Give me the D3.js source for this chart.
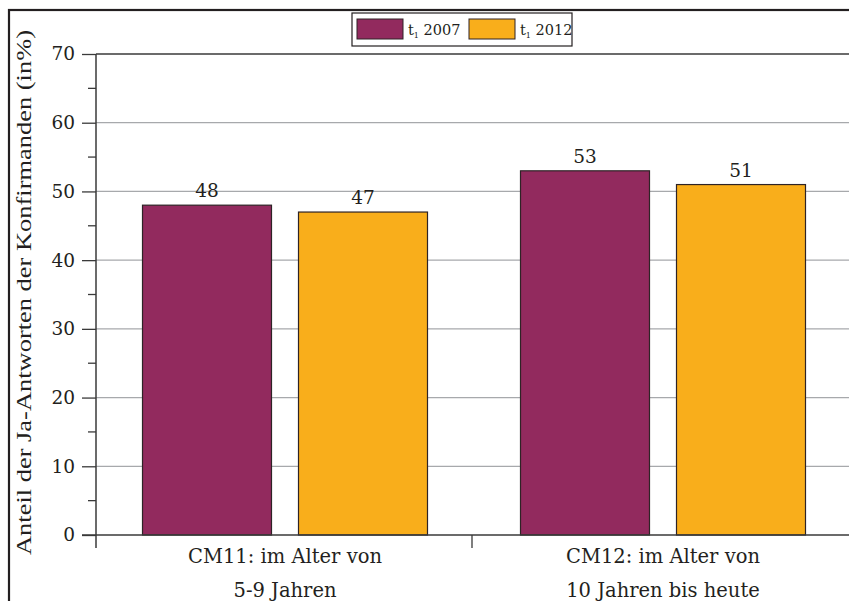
<!DOCTYPE html>
<html><head><meta charset="utf-8">
<script src="https://cdn.jsdelivr.net/npm/d3@7"></script>
<style>body{margin:0;background:#fff}svg{display:block}text{fill:#231f20}</style>
</head><body><svg id="c" width="849" height="601"></svg>
<script>
const categories = [["CM11: im Alter von","5-9 Jahren"],["CM12: im Alter von","10 Jahren bis heute"]];
const seriesNames = ["2007","2012"];
const values2007 = [48, 53];
const values2012 = [47, 51];
const yTicks = [0,10,20,30,40,50,60,70];
const colors = ["#922A5E","#F9AE1B"];

(function(){
const FONT = "'DejaVu Serif', serif";
const svg = d3.select("#c").attr("font-family", FONT);
const pLeft = 96, pRight = 852, pTop = 54, pBottom = 535;
const y = d3.scaleLinear().domain([0,70]).range([pBottom, pTop]);
const x = d3.scaleBand().domain([0,1]).range([pLeft, pRight]);
const barW = 129, gap = 27;

svg.append("rect").attr("x",9).attr("y",10).attr("width",900).attr("height",700)
  .attr("fill","none").attr("stroke","#231f20").attr("stroke-width",2.2);

svg.append("g").selectAll("line").data(yTicks.filter(d=>d>0&&d<70)).join("line")
  .attr("x1",pLeft).attr("x2",849).attr("y1",d=>y(d)).attr("y2",d=>y(d))
  .attr("stroke","#a7a9ac").attr("stroke-width",1.2);
svg.append("line").attr("x1",pLeft).attr("x2",849).attr("y1",y(70)).attr("y2",y(70))
  .attr("stroke","#3a3a3a").attr("stroke-width",1.6);

const data = [];
categories.forEach((c,i)=>{
  data.push({i, s:0, v:values2007[i]});
  data.push({i, s:1, v:values2012[i]});
});
const cx = i => x(i) + x.bandwidth()/2;
const bx = d => d.s===0 ? cx(d.i) - gap/2 - barW : cx(d.i) + gap/2;
svg.append("g").selectAll("rect").data(data).join("rect")
  .attr("x",bx).attr("width",barW)
  .attr("y",d=>y(d.v)).attr("height",d=>y(0)-y(d.v))
  .attr("fill",d=>colors[d.s]).attr("stroke","#2e2326").attr("stroke-width",1.2);
svg.append("g").selectAll("text").data(data).join("text")
  .attr("font-family",FONT)
  .attr("x",d=>bx(d)+barW/2).attr("y",d=>y(d.v)-8)
  .attr("text-anchor","middle").attr("font-size",18.5).text(d=>d.v);

const yAxis = d3.axisLeft(y).tickValues(yTicks).tickSize(14).tickPadding(7).tickSizeOuter(0);
const gy = svg.append("g").attr("transform",`translate(${pLeft},0)`).call(yAxis);
gy.attr("font-family",FONT);
gy.select(".domain").remove();
gy.selectAll("line").attr("stroke","#3a3a3a").attr("stroke-width",1.3);
gy.selectAll("text").attr("font-size",18.5).attr("font-family",FONT).attr("fill","#231f20");
const minor = d3.range(5,70,10);
svg.append("g").selectAll("line").data(minor).join("line")
  .attr("x1",pLeft-8).attr("x2",pLeft).attr("y1",d=>y(d)).attr("y2",d=>y(d))
  .attr("stroke","#3a3a3a").attr("stroke-width",1.3);
svg.append("line").attr("x1",pLeft).attr("x2",pLeft).attr("y1",pTop).attr("y2",pBottom+13)
  .attr("stroke","#3a3a3a").attr("stroke-width",1.5);

svg.append("line").attr("x1",pLeft-14).attr("x2",849).attr("y1",pBottom).attr("y2",pBottom)
  .attr("stroke","#3a3a3a").attr("stroke-width",1.6);
svg.append("line").attr("x1",x(1)-2).attr("x2",x(1)-2).attr("y1",pBottom).attr("y2",pBottom+13)
  .attr("stroke","#3a3a3a").attr("stroke-width",1.3);
categories.forEach((c,i)=>{
  c.forEach((line,j)=>{
    svg.append("text").attr("font-family",FONT).attr("x",cx(i)).attr("y",563+j*34).attr("text-anchor","middle")
      .attr("font-size",19.5).text(line);
  });
});

svg.append("text").attr("font-family","'Liberation Serif', serif")
  .attr("transform",`translate(31,${(pBottom+30)/2+10}) rotate(-90)`)
  .attr("text-anchor","middle").attr("font-size",21)
  .attr("textLength",525).attr("lengthAdjust","spacingAndGlyphs")
  .text("Anteil der Ja-Antworten der Konfirmanden (in%)");

const lg = svg.append("g");
lg.append("rect").attr("x",352).attr("y",13).attr("width",220).attr("height",33)
  .attr("fill","#fff").attr("stroke","#231f20").attr("stroke-width",1.2);
const lx = [357,469];
seriesNames.forEach((n,k)=>{
  lg.append("rect").attr("x",lx[k]).attr("y",19).attr("width",46).attr("height",20)
    .attr("fill",colors[k]).attr("stroke","#2e2326").attr("stroke-width",1);
  const t = lg.append("text").attr("font-family",FONT).attr("x",lx[k]+51).attr("y",35).attr("font-size",14.5);
  t.append("tspan").text("t");
  t.append("tspan").attr("font-size",8).attr("dy",3).text("1");
  t.append("tspan").attr("dy",-3).text(" "+n);
});
})();
</script></body></html>
